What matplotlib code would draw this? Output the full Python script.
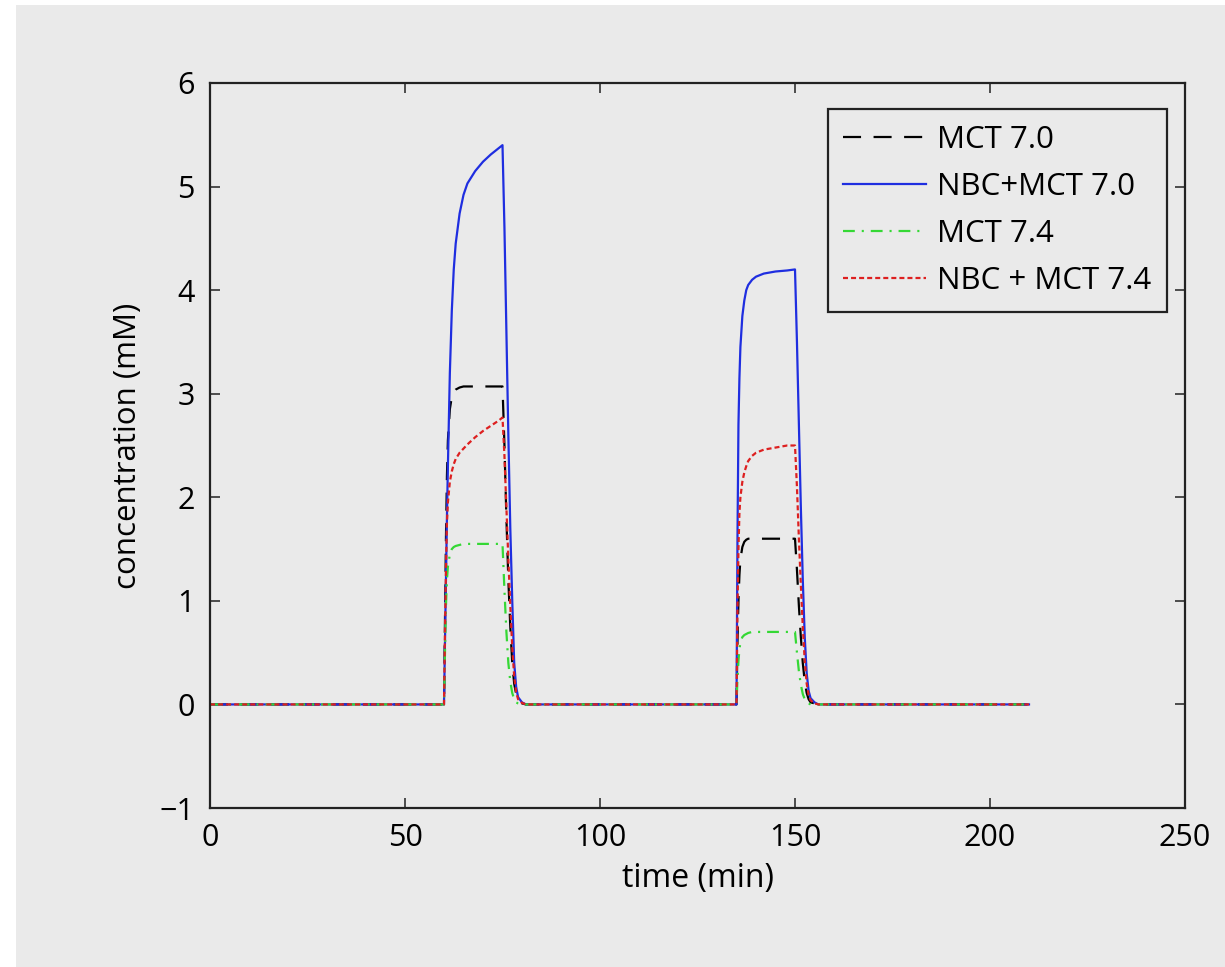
import matplotlib
matplotlib.use("Agg")
import matplotlib.pyplot as plt
from matplotlib.patches import Rectangle

plt.rcParams['font.family'] = ['Open Sans', 'DejaVu Sans']
plt.rcParams['lines.scale_dashes'] = False

# time (min)
time = [0, 60,
        60.25, 60.5, 60.75, 61, 61.5, 62, 62.5, 63, 64, 65, 66, 68, 70, 72, 74, 75,
        75.5, 76, 76.5, 77, 77.5, 78, 78.5, 79, 80, 81, 82,
        135,
        135.25, 135.5, 135.75, 136, 136.5, 137, 137.5, 138, 139, 140, 142, 145, 148, 150,
        150.5, 151, 151.5, 152, 152.5, 153, 153.5, 154, 155, 156, 157,
        210]

mct70 = [0, 0,
         0.8, 1.6, 2.2, 2.55, 2.85, 2.97, 3.02, 3.04, 3.06, 3.07, 3.07, 3.07, 3.07, 3.07, 3.07, 3.07,
         2.5, 1.8, 1.2, 0.75, 0.4, 0.2, 0.1, 0.04, 0.01, 0, 0,
         0,
         0.6, 1.0, 1.25, 1.4, 1.52, 1.57, 1.59, 1.6, 1.6, 1.6, 1.6, 1.6, 1.6, 1.6,
         1.3, 0.95, 0.65, 0.4, 0.22, 0.11, 0.05, 0.02, 0.01, 0, 0,
         0]

nbc_mct70 = [0, 0,
             0.6, 1.2, 1.8, 2.3, 3.2, 3.8, 4.2, 4.45, 4.74, 4.92, 5.03, 5.15, 5.24, 5.31, 5.37, 5.40,
             4.6, 3.6, 2.6, 1.7, 1.0, 0.4, 0.17, 0.07, 0.02, 0, 0,
             0,
             1.6, 2.7, 3.15, 3.45, 3.75, 3.9, 4.0, 4.05, 4.1, 4.13, 4.16, 4.18, 4.19, 4.2,
             3.5, 2.7, 1.9, 1.2, 0.65, 0.3, 0.13, 0.06, 0.02, 0, 0,
             0]

mct74 = [0, 0,
         0.5, 0.95, 1.2, 1.33, 1.45, 1.5, 1.52, 1.53, 1.54, 1.55, 1.55, 1.55, 1.55, 1.55, 1.55, 1.55,
         1.1, 0.7, 0.4, 0.22, 0.11, 0.05, 0.02, 0.01, 0, 0, 0,
         0,
         0.25, 0.42, 0.53, 0.6, 0.65, 0.67, 0.68, 0.69, 0.7, 0.7, 0.7, 0.7, 0.7, 0.7,
         0.5, 0.32, 0.19, 0.1, 0.05, 0.02, 0.01, 0, 0, 0, 0,
         0]

nbc_mct74 = [0, 0,
             0.7, 1.3, 1.75, 1.95, 2.15, 2.25, 2.32, 2.37, 2.43, 2.47, 2.51, 2.58, 2.64, 2.69, 2.74, 2.77,
             2.4, 1.9, 1.4, 0.95, 0.55, 0.27, 0.12, 0.05, 0.015, 0, 0,
             0,
             0.9, 1.5, 1.85, 2.0, 2.15, 2.24, 2.3, 2.35, 2.4, 2.43, 2.46, 2.48, 2.5, 2.5,
             2.1, 1.6, 1.15, 0.75, 0.42, 0.2, 0.09, 0.04, 0.01, 0, 0,
             0]

labels = ['MCT 7.0', 'NBC+MCT 7.0', 'MCT 7.4', 'NBC + MCT 7.4']
xticks = [0, 50, 100, 150, 200, 250]
yticks = [-1, 0, 1, 2, 3, 4, 5, 6]

BG = '#eaeaea'
W, H = 1225, 967
fig = plt.figure(figsize=(W / 100, H / 100), dpi=100, facecolor='white')
fig.patches.append(Rectangle((16 / W, -0.01), 1.01 - 16 / W, 1.01 - 5 / H, transform=fig.transFigure,
                             facecolor=BG, edgecolor='none', zorder=-10))

ax = fig.add_axes([210 / W, 1 - 808 / H, (1185 - 210) / W, (808 - 83) / H])
ax.set_facecolor(BG)

ax.plot(time, mct70, color='black', lw=1.6, dashes=(13, 9), label=labels[0])
ax.plot(time, nbc_mct70, color='#1f2ee0', lw=1.6, label=labels[1])
ax.plot(time, mct74, color='#35d835', lw=1.6, dashes=(8.5, 5, 1.5, 5), label=labels[2])
ax.plot(time, nbc_mct74, color='#dd2020', lw=1.6, dashes=(3.6, 2.2), label=labels[3])

ax.set_xlim(0, 250)
ax.set_ylim(-1, 6)
ax.set_xticks(xticks)
ax.set_yticks(yticks)
ax.set_xticklabels([str(v) for v in xticks])
ax.set_yticklabels([('\u2212' + str(-v)) if v < 0 else str(v) for v in yticks])
ax.tick_params(direction='in', top=True, right=True, length=7, width=1.1,
               labelsize=22, pad=11, color='#222222')
for s in ax.spines.values():
    s.set_linewidth(1.6)
    s.set_color('#222222')

ax.set_xlabel('time (min)', fontsize=23, labelpad=6)
ax.set_ylabel('concentration (mM)', fontsize=22.5, labelpad=12)

leg = ax.legend(loc='upper right', bbox_to_anchor=(1167 / W, 1 - 109 / H),
                bbox_transform=fig.transFigure, fontsize=22.5, frameon=True, fancybox=False,
                facecolor=BG, edgecolor='#222222', framealpha=1, handlelength=2.65,
                handletextpad=0.35, labelspacing=0.55, borderpad=0.5, borderaxespad=0)
leg.get_frame().set_linewidth(1.6)

fig.savefig('out.png', dpi=100, facecolor=fig.get_facecolor())
